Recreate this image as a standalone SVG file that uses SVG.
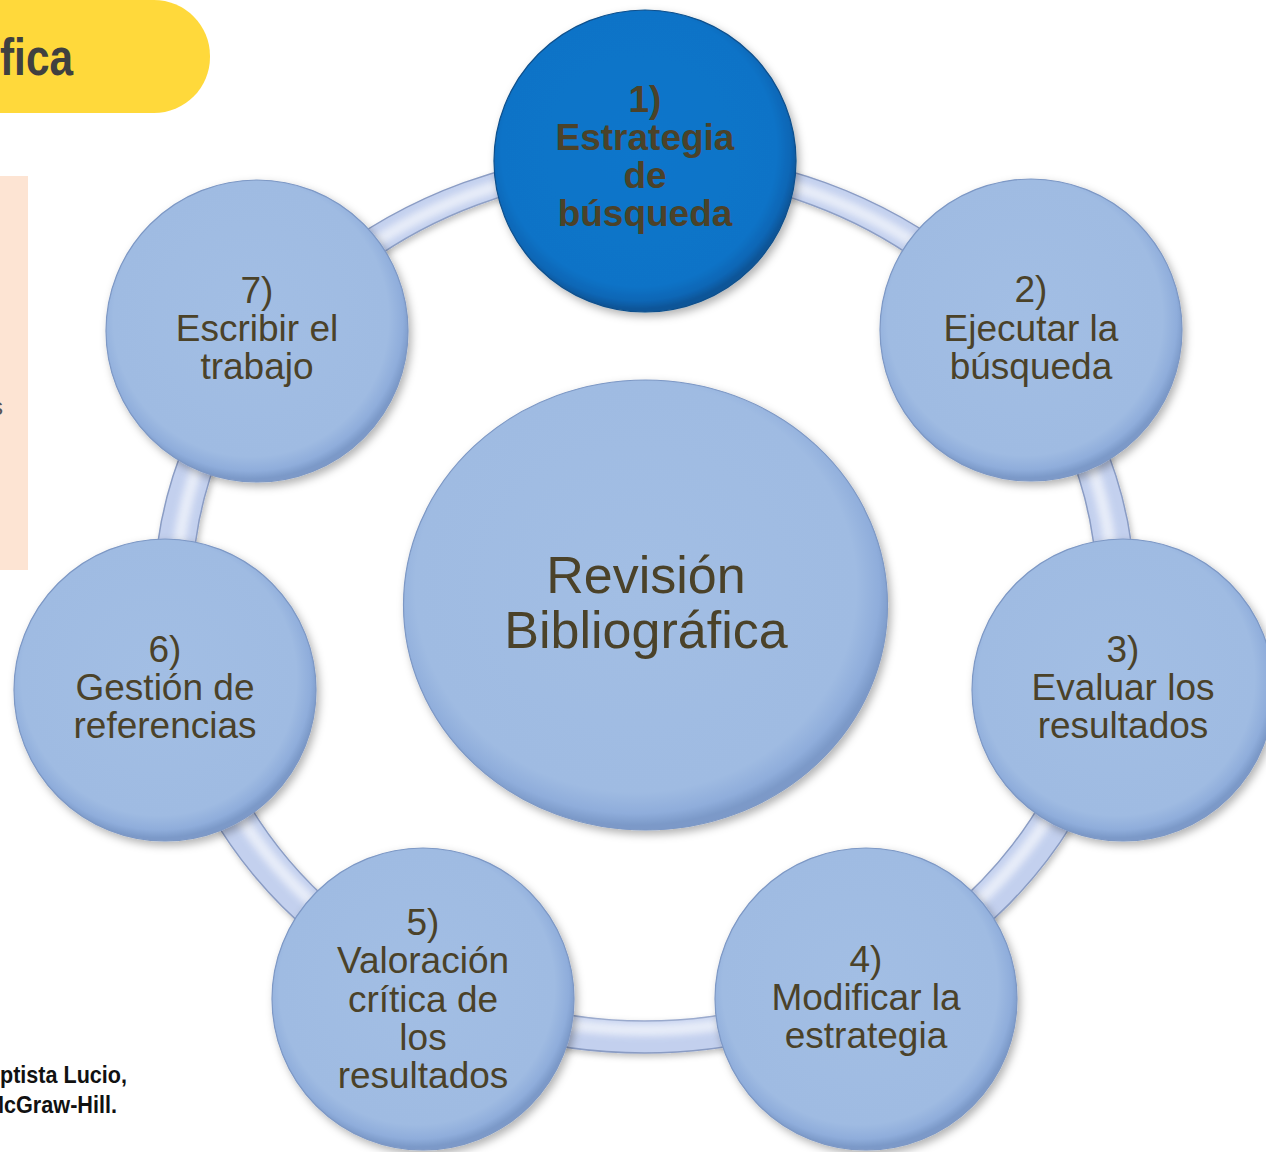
<svg xmlns="http://www.w3.org/2000/svg" width="1266" height="1152" viewBox="0 0 1266 1152">
<defs>
<style>
.lbl{font-family:"Liberation Sans",Arial,sans-serif;font-size:37px;fill:#4b4229;text-anchor:middle}
.b{font-weight:bold}
.node{fill:url(#gNode);stroke:#7d98c5;stroke-width:1.2;filter:url(#sh)}
.ctr{font-family:"Liberation Sans",Arial,sans-serif;font-size:52px;fill:#4b4229;text-anchor:middle}
.side{font-family:"Liberation Sans",Arial,sans-serif;font-weight:bold;fill:#111}
</style>
<radialGradient id="gNode" cx="0.48" cy="0.46" r="0.53">
<stop offset="0" stop-color="#a2bee4"/>
<stop offset="0.86" stop-color="#9fbbe2"/>
<stop offset="0.95" stop-color="#8faddb"/>
<stop offset="1" stop-color="#7b99c8"/>
</radialGradient>
<radialGradient id="gNode1" cx="0.48" cy="0.46" r="0.53">
<stop offset="0" stop-color="#0b76cb"/>
<stop offset="0.86" stop-color="#0a73c7"/>
<stop offset="0.95" stop-color="#0966b5"/>
<stop offset="1" stop-color="#0a5598"/>
</radialGradient>
<filter id="sh" x="-10%" y="-10%" width="125%" height="125%">
<feDropShadow dx="3" dy="4" stdDeviation="4" flood-color="#000" flood-opacity="0.3"/>
</filter>
<filter id="shr" x="-10%" y="-10%" width="120%" height="120%">
<feDropShadow dx="2" dy="3" stdDeviation="3" flood-color="#000" flood-opacity="0.25"/>
</filter>
<filter id="blur" x="-5%" y="-5%" width="110%" height="110%">
<feGaussianBlur stdDeviation="3.5"/>
</filter>
</defs>

<rect width="1266" height="1152" fill="#ffffff"/>

<g id="title">
<rect x="-80" y="0" width="290" height="113" rx="56" ry="56" fill="#ffd93b"/>
<text x="0" y="75" font-family="'Liberation Sans',Arial,sans-serif" font-weight="bold" font-size="52" fill="#404040" textLength="73" lengthAdjust="spacingAndGlyphs">fica</text>
</g>

<g id="sidebox">
<rect x="-10" y="176" width="38" height="394" fill="#fde4d3"/>
<text x="-9" y="415" font-family="'Liberation Sans',Arial,sans-serif" font-size="24" fill="#555">s</text>
</g>

<g id="reference">
<text class="side" x="0" y="1083" font-size="24" textLength="127" lengthAdjust="spacingAndGlyphs">ptista Lucio,</text>
<text class="side" x="-14" y="1113" font-size="24" textLength="131" lengthAdjust="spacingAndGlyphs">McGraw-Hill.</text>
</g>

<g id="connectors">
<path d="M 153.5 602 A 491 451 0 1 0 1135.5 602 A 491 451 0 1 0 153.5 602 Z M 191.5 598 A 453 423 0 1 1 1097.5 598 A 453 423 0 1 1 191.5 598 Z" fill="#c3d0ee" fill-rule="evenodd" stroke="#8a9cc4" stroke-width="1.5" filter="url(#shr)"/>
<ellipse cx="644.5" cy="597" rx="469" ry="433" fill="none" stroke="#f2f5fc" stroke-width="12" opacity="0.8" filter="url(#blur)"/>
</g>

<g id="center">
<ellipse class="node" cx="645.5" cy="605" rx="242" ry="225"/>
<text class="ctr" x="646" y="593">Revisión</text>
<text class="ctr" x="646" y="648">Bibliográfica</text>
</g>

<g id="n1">
<circle cx="645" cy="161" r="151" fill="url(#gNode1)" stroke="#0a4f8c" stroke-width="1.2" filter="url(#sh)"/>
<text class="lbl b" x="645" y="112">1)</text>
<text class="lbl b" x="645" y="150">Estrategia</text>
<text class="lbl b" x="645" y="188">de</text>
<text class="lbl b" x="645" y="226">búsqueda</text>
</g>

<g id="n2">
<circle class="node" cx="1031" cy="330" r="151"/>
<text class="lbl" x="1031" y="302">2)</text>
<text class="lbl" x="1031" y="341">Ejecutar la</text>
<text class="lbl" x="1031" y="379">búsqueda</text>
</g>

<g id="n3">
<circle class="node" cx="1123" cy="690" r="151"/>
<text class="lbl" x="1123" y="662">3)</text>
<text class="lbl" x="1123" y="700">Evaluar los</text>
<text class="lbl" x="1123" y="738">resultados</text>
</g>

<g id="n4">
<circle class="node" cx="866" cy="999" r="151"/>
<text class="lbl" x="866" y="972">4)</text>
<text class="lbl" x="866" y="1010">Modificar la</text>
<text class="lbl" x="866" y="1048">estrategia</text>
</g>

<g id="n5">
<circle class="node" cx="423" cy="999" r="151"/>
<text class="lbl" x="423" y="935">5)</text>
<text class="lbl" x="423" y="973">Valoración</text>
<text class="lbl" x="423" y="1012">crítica de</text>
<text class="lbl" x="423" y="1050">los</text>
<text class="lbl" x="423" y="1088">resultados</text>
</g>

<g id="n6">
<circle class="node" cx="165" cy="690" r="151"/>
<text class="lbl" x="165" y="662">6)</text>
<text class="lbl" x="165" y="700">Gestión de</text>
<text class="lbl" x="165" y="738">referencias</text>
</g>

<g id="n7">
<circle class="node" cx="257" cy="331" r="151"/>
<text class="lbl" x="257" y="303">7)</text>
<text class="lbl" x="257" y="341">Escribir el</text>
<text class="lbl" x="257" y="379">trabajo</text>
</g>
</svg>
